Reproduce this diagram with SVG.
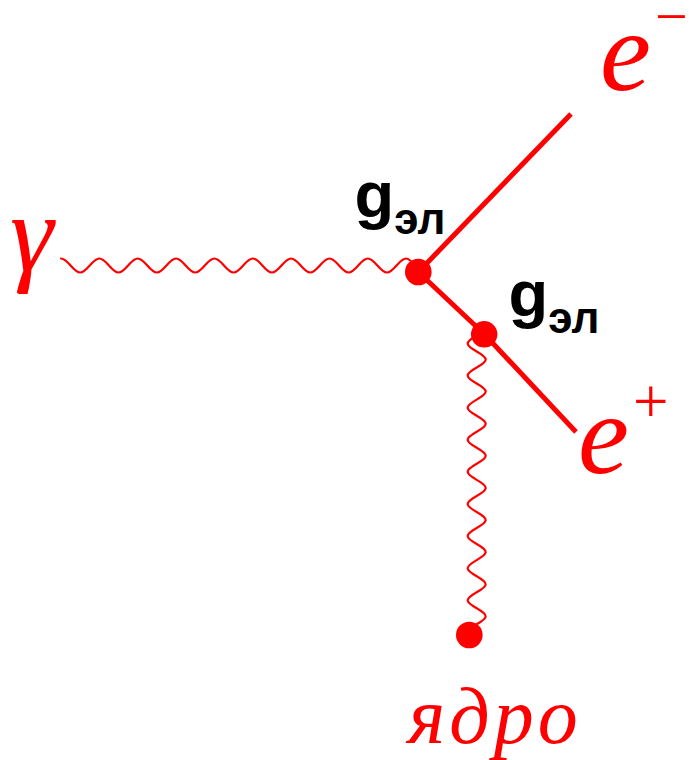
<svg xmlns="http://www.w3.org/2000/svg" width="689" height="760" viewBox="0 0 689 760">
<style>
.wave{fill:none;stroke:#ff0000;stroke-width:2.2;stroke-linejoin:round;stroke-linecap:round}
.ferm{fill:none;stroke:#ff0000;stroke-width:5}
.dot{fill:#ff0000}
.red{fill:#ff0000;font-family:"Liberation Serif","Times New Roman",serif;font-style:italic}
.sup{font-style:normal}
.lbl{fill:#000;font-family:"Liberation Sans",Arial,sans-serif;font-weight:bold}
</style>
<rect width="689" height="760" fill="#fff"/>
<g id="connectors">
<path id="photon" class="wave" d="M61,258.5 c6.97,0 12.205,14 19.175,14 c6.97,0 12.205,-14 19.175,-14 c6.97,0 12.205,14 19.175,14 c6.97,0 12.205,-14 19.175,-14 c6.97,0 12.205,14 19.175,14 c6.97,0 12.205,-14 19.175,-14 c6.97,0 12.205,14 19.175,14 c6.97,0 12.205,-14 19.175,-14 c6.97,0 12.205,14 19.175,14 c6.97,0 12.205,-14 19.175,-14 c6.97,0 12.205,14 19.175,14 c6.97,0 12.205,-14 19.175,-14 c6.97,0 12.205,14 19.175,14 c6.97,0 12.205,-14 19.175,-14 c6.97,0 12.205,14 19.175,14 c6.97,0 12.205,-14 19.175,-14 c6.97,0 12.205,14 19.175,14 c6.97,0 12.205,-14 19.175,-14 c4.5,0 9,8 12.85,12.5"/>
<path id="virtual-photon" class="wave" d="M485.7,327.4 c0,5.83 -18,10.22 -18,16.05 c0,5.83 18,10.22 18,16.05 c0,5.83 -18,10.22 -18,16.05 c0,5.83 18,10.22 18,16.05 c0,5.83 -18,10.22 -18,16.05 c0,5.83 18,10.22 18,16.05 c0,5.83 -18,10.22 -18,16.05 c0,5.83 18,10.22 18,16.05 c0,5.83 -18,10.22 -18,16.05 c0,5.83 18,10.22 18,16.05 c0,5.83 -18,10.22 -18,16.05 c0,5.83 18,10.22 18,16.05 c0,5.83 -18,10.22 -18,16.05 c0,5.83 18,10.22 18,16.05 c0,5.83 -18,10.22 -18,16.05 c0,5.83 18,10.22 18,16.05 c0,5.83 -18,10.22 -18,16.05 c0,5.83 18,10.22 18,16.05 c0,5.83 -18,10.22 -18,16.05 L469,635"/>
<line id="electron" class="ferm" x1="418.3" y1="272" x2="571" y2="114"/>
<line id="internal" class="ferm" x1="418.3" y1="272" x2="484.2" y2="334"/>
<line id="positron" class="ferm" x1="484.2" y1="334" x2="576" y2="432"/>
</g>
<g id="vertex1"><circle class="dot" cx="418.3" cy="272" r="13.3"/></g>
<g id="vertex2"><circle class="dot" cx="484.2" cy="334.3" r="13.2"/></g>
<g id="nucleus"><circle class="dot" cx="469.3" cy="635" r="13.3"/></g>
<g id="label-gamma"><text class="red" x="10" y="271" font-size="110">γ</text></g>
<g id="label-electron"><text class="red" x="600" y="90" font-size="115">e<tspan class="sup" x="655" y="36" font-size="58">−</tspan></text></g>
<g id="label-positron"><text class="red" x="578" y="473" font-size="115">e<tspan class="sup" x="633" y="423" font-size="63">+</tspan></text></g>
<g id="label-nucleus"><text class="red" x="408" y="743" font-size="80" letter-spacing="4">ядро</text></g>
<g id="label-g1"><text class="lbl" x="354.5" y="217" font-size="65">g<tspan font-size="44" dy="17">эл</tspan></text></g>
<g id="label-g2"><text class="lbl" x="508.5" y="316" font-size="65">g<tspan font-size="44" dy="17">эл</tspan></text></g>
</svg>
